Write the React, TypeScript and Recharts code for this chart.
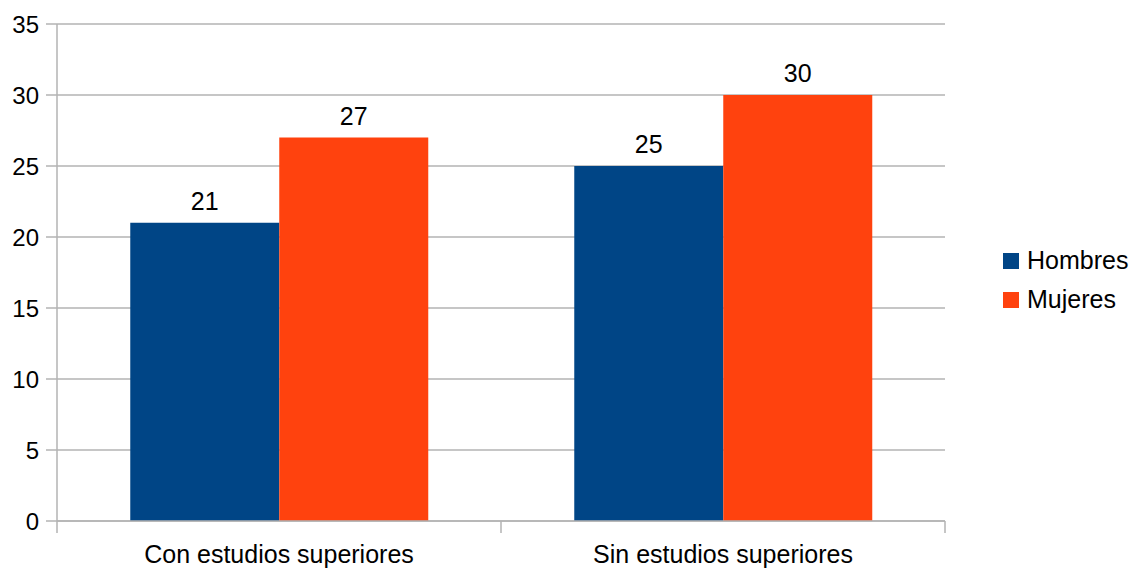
import React from 'react';
import {
  BarChart,
  Bar,
  XAxis,
  YAxis,
  CartesianGrid,
  LabelList,
} from 'recharts';

const categories = ['Con estudios superiores', 'Sin estudios superiores'];
const hombres = [21, 25];
const mujeres = [27, 30];
const yTicks = [0, 5, 10, 15, 20, 25, 30, 35];

const SERIES = [
  { key: 'Hombres', color: '#004586', values: hombres },
  { key: 'Mujeres', color: '#ff420e', values: mujeres },
];

const data = categories.map((name, i) => ({
  name,
  Hombres: hombres[i],
  Mujeres: mujeres[i],
}));

const W = 1131;
const H = 569;
const MARGIN = { top: 24, right: 186, bottom: 0, left: 0 };
const Y_AXIS_W = 57;
const X_AXIS_H = 48;
const GRID = '#b3b3b3';
const FONT = '"Liberation Sans", Arial, sans-serif';

// half of one category band, used to put tick marks on the band edges
const HALF_BAND = (W - MARGIN.left - MARGIN.right - Y_AXIS_W) / categories.length / 2;

const CategoryTick = ({ x, y, payload, index }: any) => {
  const last = index === categories.length - 1;
  return (
    <g>
      <line x1={x - HALF_BAND} x2={x - HALF_BAND} y1={y - 12} y2={y} stroke={GRID} strokeWidth={1.5} />
      {last && (
        <line x1={x + HALF_BAND} x2={x + HALF_BAND} y1={y - 12} y2={y} stroke={GRID} strokeWidth={1.5} />
      )}
      <text x={x} y={y + 30} textAnchor="middle" fontSize={25} fill="#000" fontFamily={FONT}>
        {payload.value}
      </text>
    </g>
  );
};

const LegendBox = () => (
  <div
    style={{
      position: 'absolute',
      left: 1003,
      top: 241,
      fontFamily: FONT,
      fontSize: 25,
      color: '#000',
    }}
  >
    {SERIES.map((s) => (
      <div key={s.key} style={{ display: 'flex', alignItems: 'center', height: 39 }}>
        <span style={{ width: 16, height: 16, background: s.color, marginRight: 8, display: 'inline-block' }} />
        <span>{s.key}</span>
      </div>
    ))}
  </div>
);

export default function App() {
  return (
    <div style={{ position: 'fixed', left: 0, top: 0, width: W, height: H, background: '#fff' }}>
      <BarChart
        width={W}
        height={H}
        data={data}
        margin={MARGIN}
        barCategoryGap="16.5%"
        barGap={0}
      >
        <CartesianGrid horizontal vertical={false} stroke={GRID} strokeWidth={1.5} />
        <XAxis
          dataKey="name"
          height={X_AXIS_H}
          tickLine={false}
          axisLine={{ stroke: GRID, strokeWidth: 1.5 }}
          tickSize={12}
          tickMargin={0}
          tick={<CategoryTick />}
          interval={0}
        />
        <YAxis
          width={Y_AXIS_W}
          domain={[0, 35]}
          ticks={yTicks}
          interval={0}
          tickSize={11}
          tickMargin={7}
          tickLine={{ stroke: GRID, strokeWidth: 1.5 }}
          axisLine={{ stroke: GRID, strokeWidth: 1.5 }}
          tick={{ fill: '#000', fontSize: 24, fontFamily: FONT }}
        />
        <YAxis
          yAxisId="frame"
          orientation="right"
          width={0}
          tick={false}
          tickLine={false}
          axisLine={{ stroke: '#cccccc', strokeWidth: 1.5 }}
        />
        {SERIES.map((s) => (
          <Bar key={s.key} dataKey={s.key} fill={s.color} isAnimationActive={false}>
            <LabelList
              dataKey={s.key}
              position="top"
              offset={13}
              fill="#000"
              fontSize={25}
              fontFamily={FONT}
            />
          </Bar>
        ))}
      </BarChart>
      <LegendBox />
    </div>
  );
}
